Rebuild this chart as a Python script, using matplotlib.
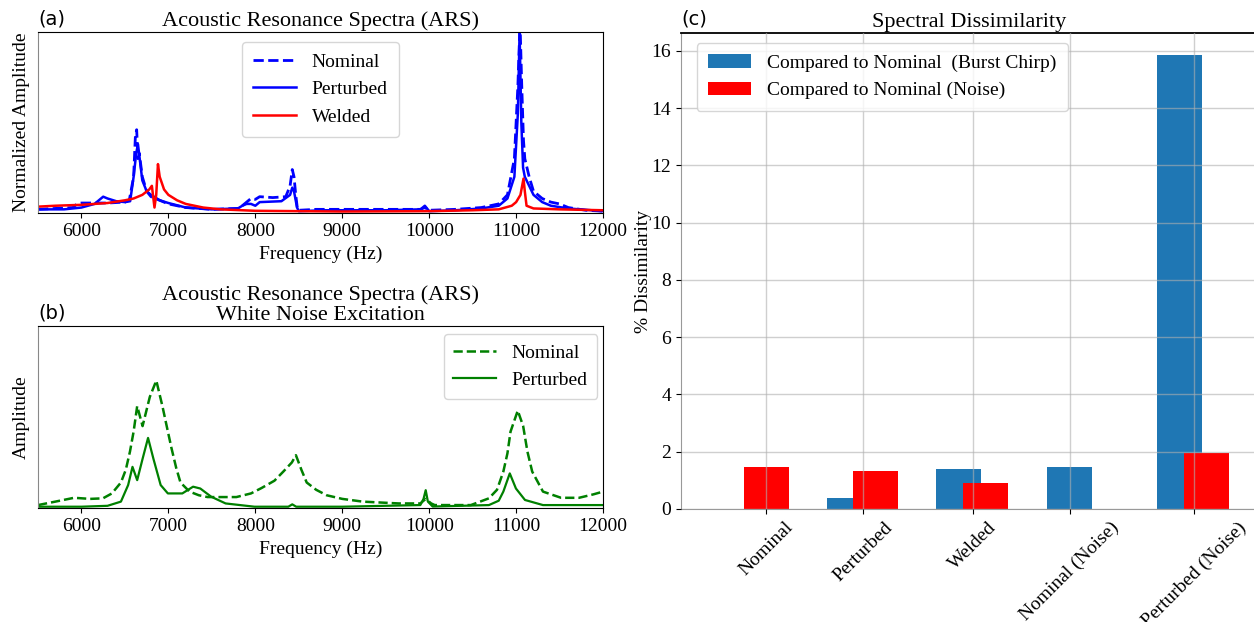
import numpy as np
import matplotlib
matplotlib.use('Agg')
import matplotlib.pyplot as plt

plt.rcParams['font.family'] = ['Liberation Serif', 'DejaVu Serif']

# ---- (a) ARS, burst chirp (normalized amplitude) ----
freq_nom_a = [5500, 5700, 5900, 5950, 6000, 6300, 6500, 6550, 6600, 6620, 6635, 6650, 6665, 6700,
              6750, 6800, 6900, 7000, 7200, 7500, 7800, 7850, 7900, 7950, 8000, 8050, 8200, 8350,
              8400, 8425, 8445, 8465, 8485, 8500, 8700, 9000, 9500, 9900, 9950, 10000, 10300,
              10600, 10800, 10900, 10980, 11020, 11045, 11065, 11085, 11100, 11150, 11200, 11300,
              11400, 11500, 11600, 11800, 12000]
amp_nom_a = [0.02, 0.025, 0.03, 0.05, 0.055, 0.055, 0.06, 0.07, 0.2, 0.42, 0.46, 0.3, 0.33, 0.2,
             0.12, 0.09, 0.07, 0.05, 0.03, 0.02, 0.025, 0.04, 0.06, 0.08, 0.075, 0.09, 0.085, 0.09,
             0.15, 0.24, 0.2, 0.1, 0.02, 0.015, 0.02, 0.02, 0.02, 0.02, 0.03, 0.015, 0.02,
             0.03, 0.05, 0.1, 0.3, 0.7, 1.05, 0.7, 0.4, 0.3, 0.2, 0.12, 0.08,
             0.06, 0.05, 0.03, 0.015, 0.01]

freq_per_a = [5500, 5800, 6000, 6150, 6250, 6300, 6400, 6500, 6560, 6600, 6630, 6650, 6670, 6700,
              6750, 6800, 6850, 6900, 7000, 7200, 7500, 7800, 7850, 7900, 7950, 8000, 8050, 8300,
              8400, 8425, 8445, 8480, 8500, 8800, 9500, 9900, 9950, 10000, 10300, 10600, 10800,
              10900, 10980, 11020, 11040, 11060, 11080, 11100, 11200, 11300, 11400, 11600, 12000]
amp_per_a = [0.02, 0.02, 0.03, 0.05, 0.09, 0.08, 0.065, 0.06, 0.065, 0.2, 0.33, 0.38, 0.3, 0.18,
             0.12, 0.1, 0.085, 0.07, 0.055, 0.03, 0.02, 0.025, 0.04, 0.05, 0.05, 0.04, 0.06, 0.065,
             0.1, 0.14, 0.12, 0.03, 0.01, 0.015, 0.015, 0.02, 0.04, 0.01, 0.015, 0.025, 0.04,
             0.08, 0.2, 0.55, 1.0, 0.5, 0.25, 0.2, 0.1, 0.06, 0.04, 0.025, 0.01]

freq_wel_a = [5500, 5700, 6000, 6300, 6500, 6600, 6700, 6780, 6810, 6840, 6860, 6880, 6900, 6950,
              7000, 7100, 7200, 7400, 7600, 8000, 8500, 9000, 10000, 10500, 10800, 10950, 11000,
              11050, 11085, 11100, 11120, 11200, 11500, 12000]
amp_wel_a = [0.035, 0.04, 0.045, 0.055, 0.07, 0.08, 0.1, 0.13, 0.15, 0.03, 0.1, 0.27, 0.2, 0.13,
             0.1, 0.07, 0.05, 0.03, 0.02, 0.012, 0.01, 0.008, 0.01, 0.015, 0.02, 0.04, 0.06,
             0.1, 0.19, 0.12, 0.04, 0.025, 0.02, 0.015]

# ---- (b) ARS, white noise excitation ----
freq_nom_b = [5500, 5700, 5915, 6100, 6247, 6350, 6454, 6510, 6558, 6600, 6641, 6703, 6786, 6861,
              6931, 6985, 7035, 7090, 7139, 7243, 7350, 7450, 7782, 7950, 8073, 8220, 8322, 8420,
              8467, 8530, 8591, 8700, 8820, 9000, 9234, 9649, 9898, 9960, 10023, 10064, 10479,
              10687, 10780, 10853, 10900, 10936, 11019, 11081, 11130, 11185, 11309, 11517, 11724,
              11890, 12000]
amp_nom_b = [0.016, 0.035, 0.056, 0.05, 0.053, 0.08, 0.14, 0.21, 0.31, 0.42, 0.56, 0.45, 0.61, 0.70,
             0.56, 0.44, 0.33, 0.22, 0.14, 0.09, 0.07, 0.06, 0.06, 0.08, 0.11, 0.15, 0.20, 0.25,
             0.29, 0.21, 0.14, 0.1, 0.07, 0.05, 0.035, 0.025, 0.025, 0.05, 0.025, 0.016, 0.016,
             0.053, 0.1, 0.2, 0.3, 0.42, 0.535, 0.45, 0.31, 0.2, 0.09, 0.056, 0.056,
             0.075, 0.09]

freq_per_b = [5500, 6000, 6300, 6454, 6537, 6587, 6641, 6703, 6766, 6828, 6911, 6994, 7160, 7284,
              7367, 7492, 7658, 7990, 8380, 8425, 8470, 9000, 9898, 9935, 9960, 9985, 10040,
              10687, 10800, 10853, 10927, 10998, 11102, 11309, 12000]
amp_per_b = [0.007, 0.007, 0.012, 0.035, 0.126, 0.226, 0.153, 0.27, 0.385, 0.27, 0.126, 0.08, 0.08, 0.117,
             0.107, 0.062, 0.025, 0.007, 0.007, 0.02, 0.007, 0.007, 0.016, 0.05, 0.098, 0.035, 0.008,
             0.016, 0.04, 0.09, 0.19, 0.107, 0.044, 0.016, 0.016]

# ---- (c) spectral dissimilarity ----
categories = ['Nominal', 'Perturbed', 'Welded', 'Nominal (Noise)', 'Perturbed (Noise)']
diss_chirp = [0.0, 0.39, 1.39, 1.48, 15.85]
diss_noise = [1.48, 1.34, 0.92, 0.0, 1.97]

# bar layout (category centres are not evenly spaced in the original)
xpos = np.array([0.0, 0.97, 2.07, 3.04, 4.28])
off_chirp = np.array([0.0, -0.14, -0.14, 0.0, -0.14])
off_noise = np.array([0.0, 0.13, 0.13, 0.0, 0.13])
bar_w = 0.45

fig = plt.figure(figsize=(12.54, 6.22), dpi=100)
ax_a = fig.add_axes([0.0303, 0.6576, 0.4506, 0.2910])
ax_b = fig.add_axes([0.0303, 0.1833, 0.4506, 0.2926])
ax_c = fig.add_axes([0.5431, 0.1817, 0.4600, 0.7653])

# (a)
ax_a.plot(freq_nom_a, amp_nom_a, '--', color='blue', lw=2, label='Nominal')
ax_a.plot(freq_per_a, amp_per_a, '-', color='blue', lw=1.8, label='Perturbed')
ax_a.plot(freq_wel_a, amp_wel_a, '-', color='red', lw=1.8, label='Welded')
ax_a.set_xlim(5500, 12000)
ax_a.set_ylim(0, 1)
ax_a.set_yticks([])
ax_a.set_xlabel('Frequency (Hz)', fontsize=14, labelpad=4)
ax_a.set_ylabel('Normalized Amplitude', fontsize=14, labelpad=6)
ax_a.set_title('Acoustic Resonance Spectra (ARS)', fontsize=16, pad=4)
ax_a.legend(loc='upper center', bbox_to_anchor=(0.5, 1.0), fontsize=14,
            handlelength=2.2, borderpad=0.6, labelspacing=0.5)
ax_a.text(0.0, 1.02, '(a)', transform=ax_a.transAxes, fontsize=14, family='DejaVu Sans', va='bottom')

# (b)
ax_b.plot(freq_nom_b, amp_nom_b, '--', color='green', lw=1.8, label='Nominal')
ax_b.plot(freq_per_b, amp_per_b, '-', color='green', lw=1.6, label='Perturbed')
ax_b.set_xlim(5500, 12000)
ax_b.set_ylim(0, 1)
ax_b.set_yticks([])
ax_b.set_xlabel('Frequency (Hz)', fontsize=14, labelpad=4)
ax_b.set_ylabel('Amplitude', fontsize=14, labelpad=6)
ax_b.set_title('Acoustic Resonance Spectra (ARS)\nWhite Noise Excitation', fontsize=16, pad=4,
               linespacing=1.1)
ax_b.legend(loc='upper right', bbox_to_anchor=(0.99, 0.955), borderaxespad=0, fontsize=14,
            handlelength=2.2, borderpad=0.5, labelspacing=0.5)
ax_b.text(0.0, 1.02, '(b)', transform=ax_b.transAxes, fontsize=14, family='DejaVu Sans', va='bottom')

for ax in (ax_a, ax_b):
    ax.tick_params(axis='x', labelsize=14)
    ax.spines['left'].set_color('#888888')

# (c)
ax_c.bar(xpos + off_chirp, diss_chirp, bar_w, color='#1f77b4', label='Compared to Nominal  (Burst Chirp)')
ax_c.bar(xpos + off_noise, diss_noise, bar_w, color='red', label='Compared to Nominal (Noise)')
ax_c.set_xlim(-0.85, 4.92)
ax_c.set_ylim(0, 16.62)
ax_c.set_yticks(range(0, 17, 2))
ax_c.set_xticks(xpos)
ax_c.set_xticklabels(categories, rotation=45, ha='center')
ax_c.tick_params(axis='both', labelsize=14)
ax_c.set_ylabel('% Dissimilarity', fontsize=14, labelpad=0)
ax_c.set_title('Spectral Dissimilarity', fontsize=16, pad=4)
ax_c.set_axisbelow(False)
ax_c.grid(True, color='#b0b0b0', alpha=0.6, lw=1)
ax_c.spines['left'].set_color('#999999')
ax_c.spines['bottom'].set_color('#999999')
ax_c.spines['top'].set_linewidth(1.3)
ax_c.spines['right'].set_visible(False)
ax_c.legend(loc='upper left', bbox_to_anchor=(0.01, 1.0), fontsize=14, handlelength=2.2,
            borderpad=0.6, labelspacing=0.5)
ax_c.text(0.0, 1.01, '(c)', transform=ax_c.transAxes, fontsize=14, family='DejaVu Sans',
          va='bottom', ha='left')

fig.savefig('out.png', dpi=100)
